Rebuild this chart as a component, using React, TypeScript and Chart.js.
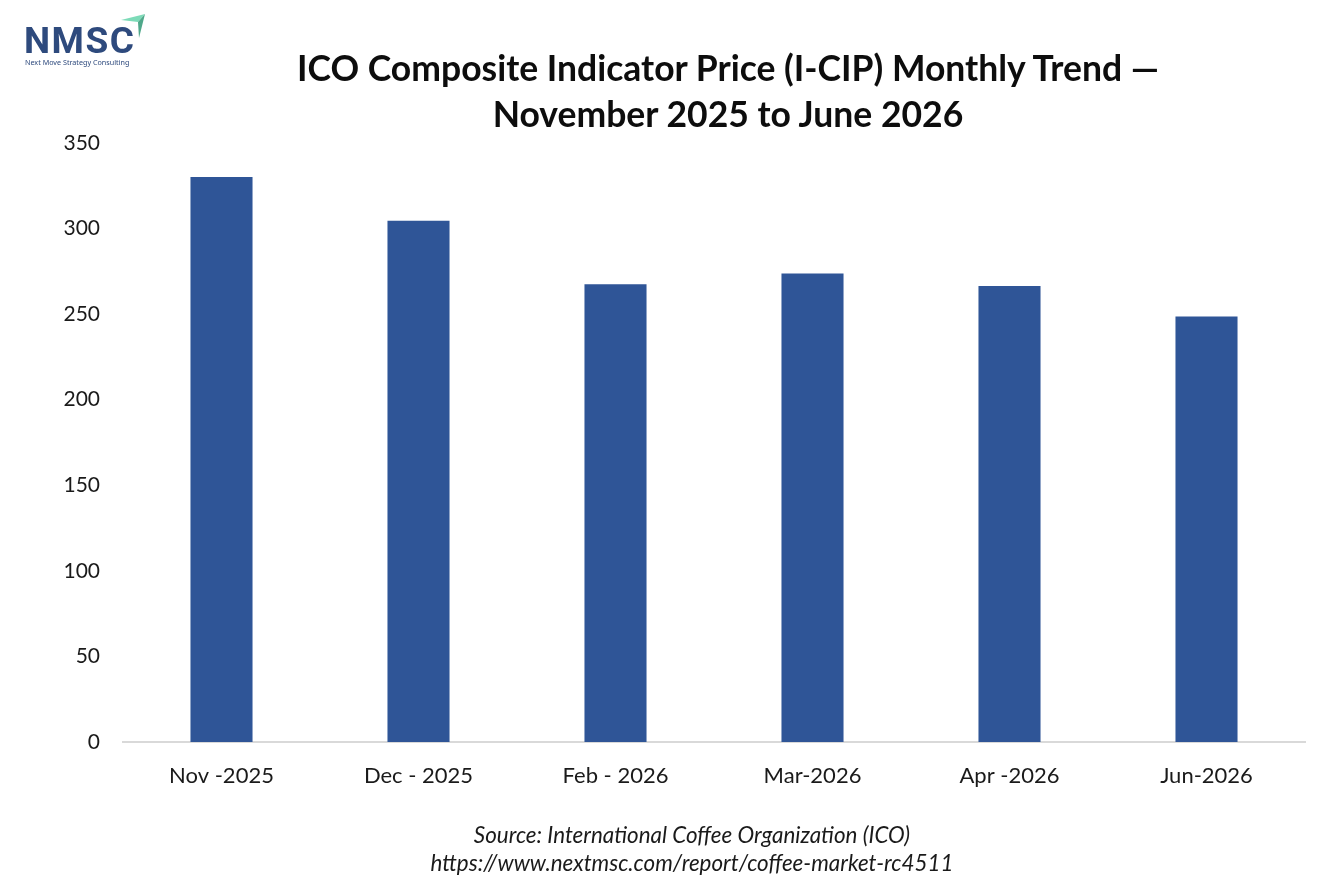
import React, { useEffect, useRef } from "react";
import { Chart, registerables } from "chart.js";

Chart.register(...registerables);

const categories: string[] = ["Nov -2025", "Dec - 2025", "Feb - 2026", "Mar-2026", "Apr -2026", "Jun-2026"];
const priceValues: number[] = [330.2, 304.6, 267.4, 273.7, 266.5, 248.6];
const yTickMin = 0;
const yTickMax = 350;
const yTickStep = 50;

const titleLines: string[] = [
  "ICO Composite Indicator Price (I-CIP) Monthly Trend \u2014",
  "November 2025 to June 2026",
];
const sourceLines: string[] = [
  "Source: International Coffee Organization (ICO)",
  "https://www.nextmsc.com/report/coffee-market-rc4511",
];

const FONT = "Lato, 'Open Sans', sans-serif";

export default function App() {
  const canvasRef = useRef<HTMLCanvasElement | null>(null);

  useEffect(() => {
    const canvas = canvasRef.current;
    if (!canvas) return;
    const chart = new Chart(canvas, {
      type: "bar",
      data: {
        labels: categories,
        datasets: [
          {
            label: "I-CIP",
            data: priceValues,
            backgroundColor: "#2F5597",
            borderWidth: 0,
            categoryPercentage: 1,
            barPercentage: 0.315,
          },
        ],
      },
      options: {
        responsive: false,
        animation: false,
        maintainAspectRatio: false,
        layout: { padding: { left: 0, right: 29, top: 143, bottom: 0 } },
        plugins: {
          legend: { display: false },
          title: { display: false },
          tooltip: { enabled: false },
        },
        scales: {
          x: {
            grid: { display: false, drawTicks: false },
            border: { display: true, color: "#d9d9d9", width: 2 },
            ticks: {
              color: "#1a1a1a",
              font: { family: FONT, size: 22 },
              padding: 21,
              maxRotation: 0,
            },
            afterFit: (scale: any) => {
              scale.height = 147;
            },
          },
          y: {
            min: yTickMin,
            max: yTickMax,
            grid: { display: false, drawTicks: false },
            border: { display: false },
            ticks: {
              stepSize: yTickStep,
              color: "#1a1a1a",
              font: { family: FONT, size: 21 },
              padding: 23,
            },
            afterFit: (scale: any) => {
              scale.width = 123;
            },
          },
        },
      },
    });
    return () => chart.destroy();
  }, []);

  return (
    <div style={{ position: "absolute", left: 0, top: 0, width: 1334, height: 889, background: "#fff", overflow: "hidden" }}>
      <canvas ref={canvasRef} width={1334} height={889} style={{ position: "absolute", left: 0, top: 0 }} />
      <svg width="160" height="50" style={{ position: "absolute", left: 0, top: 0 }}>
        <polygon points="121,20 145,14 138,22" fill="#7ddbb8" />
        <polygon points="138,22 145,14 139,38" fill="#4fa88a" />
      </svg>
      <div style={{ position: "absolute", left: 24, top: 20, fontFamily: "Roboto, sans-serif", fontWeight: 700, fontSize: 37, letterSpacing: 1.5, color: "#2E4A7D", lineHeight: "42px" }}>NMSC</div>
      <div style={{ position: "absolute", left: 25, top: 57, fontFamily: "'Noto Sans', sans-serif", fontSize: 7.2, color: "#2E4A7D", whiteSpace: "nowrap" }}>Next Move Strategy Consulting</div>
      <div style={{ position: "absolute", left: 228, top: 45, width: 1000, textAlign: "center", fontFamily: FONT, fontWeight: 700, fontSize: 35.5, lineHeight: "46px", color: "#0d0d0d" }}>
        {titleLines.map((t, i) => (
          <div key={i}>{t}</div>
        ))}
      </div>
      <div style={{ position: "absolute", left: 292, top: 821, width: 800, textAlign: "center", fontFamily: FONT, fontStyle: "italic", fontSize: 22.4, lineHeight: "28px", color: "#1a1a1a" }}>
        {sourceLines.map((t, i) => (
          <div key={i}>{t}</div>
        ))}
      </div>
    </div>
  );
}
